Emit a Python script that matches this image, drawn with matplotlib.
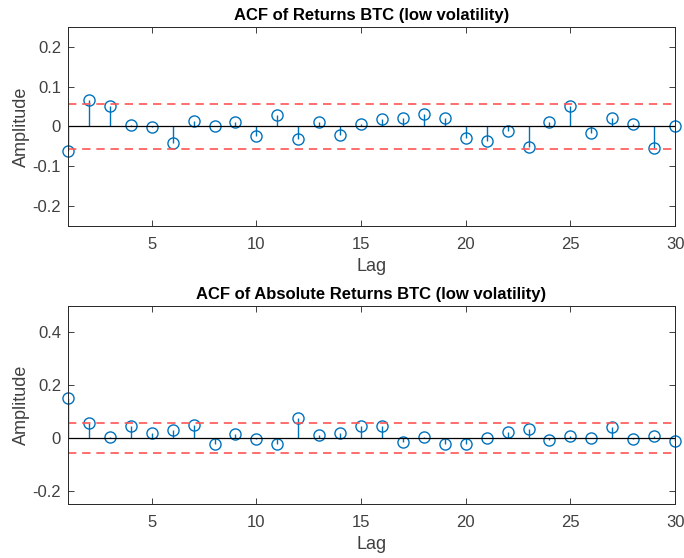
import numpy as np
import matplotlib
matplotlib.use("Agg")
import matplotlib.pyplot as plt
from matplotlib.ticker import FuncFormatter

plt.rcParams['font.family'] = ['Liberation Sans', 'DejaVu Sans']
plt.rcParams['axes.unicode_minus'] = False

lags = list(range(1, 31))
acf_returns = [-0.062, 0.066, 0.052, 0.003, -0.001, -0.041, 0.013, 0.000, 0.010, -0.025,
               0.028, -0.032, 0.010, -0.021, 0.007, 0.019, 0.021, 0.032, 0.022, -0.028,
               -0.037, -0.012, -0.051, 0.012, 0.050, -0.017, 0.020, 0.007, -0.053, 0.001]
acf_abs = [0.152, 0.057, 0.003, 0.047, 0.020, 0.030, 0.050, -0.023, 0.015, -0.003,
           -0.023, 0.077, 0.013, 0.018, 0.044, 0.044, -0.014, 0.004, -0.021, -0.022,
           0.000, 0.024, 0.033, -0.008, 0.006, -0.001, 0.042, -0.004, 0.009, -0.011]
conf_bound = 0.057

titles = ["ACF of Returns BTC (low volatility)", "ACF of Absolute Returns BTC (low volatility)"]
ylims = [(-0.25, 0.25), (-0.25, 0.5)]
yticks = [[-0.2, -0.1, 0, 0.1, 0.2], [-0.2, 0, 0.2, 0.4]]
xticks = [5, 10, 15, 20, 25, 30]

fig = plt.figure(figsize=(6.84, 5.58), dpi=100)
positions = [[0.0994, 0.595, 0.8876, 0.357], [0.0994, 0.0968, 0.8876, 0.355]]
blue = '#0072BD'
tickcol = '#404040'

for pos, vals, title, yl, yt in zip(positions, [acf_returns, acf_abs], titles, ylims, yticks):
    ax = fig.add_axes(pos)
    ml, sl, bl = ax.stem(lags, vals, linefmt='-', markerfmt='o', basefmt='k-')
    plt.setp(sl, color=blue, linewidth=1.0)
    plt.setp(ml, markerfacecolor='none', markeredgecolor=blue, markersize=8, markeredgewidth=1.0, clip_on=False)
    plt.setp(bl, color='black', linewidth=0.9)
    ax.axhline(conf_bound, color='#FF5555', linestyle=(0, (5, 3.5)), linewidth=1.2)
    ax.axhline(-conf_bound, color='#FF5555', linestyle=(0, (5, 3.5)), linewidth=1.2)
    ax.set_xlim(1, 30)
    ax.set_ylim(*yl)
    ax.set_xticks(xticks)
    ax.set_yticks(yt)
    ax.yaxis.set_major_formatter(FuncFormatter(lambda v, p: '0' if abs(v) < 1e-9 else ('%g' % v)))
    ax.tick_params(direction='in', top=True, right=True, length=4, width=0.7,
                   labelsize=12, colors=tickcol, pad=5)
    ax.tick_params(axis='x', pad=8)
    for s in ax.spines.values():
        s.set_color('#262626')
        s.set_linewidth(0.7)
    ax.set_title(title, fontsize=12, fontweight='bold', pad=5, color='black')
    ax.set_xlabel('Lag', fontsize=13, color=tickcol, labelpad=4)
    ax.set_ylabel('Amplitude', fontsize=13, color=tickcol, labelpad=2)

fig.savefig('out.png', dpi=100)
